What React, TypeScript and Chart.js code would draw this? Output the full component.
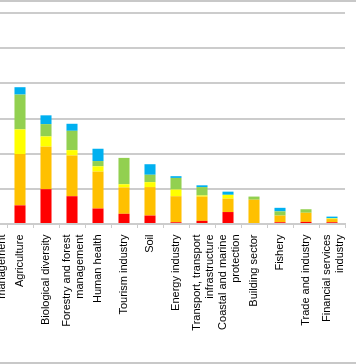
import React, { useEffect, useRef } from "react";
import { Chart, registerables } from "chart.js";

Chart.register(...registerables);

const categories: string[][] = [
  ["Water regime and water", "management"],
  ["Agriculture"],
  ["Biological diversity"],
  ["Forestry and forest", "management"],
  ["Human health"],
  ["Tourism industry"],
  ["Soil"],
  ["Energy industry"],
  ["Transport, transport", "infrastructure"],
  ["Coastal and marine", "protection"],
  ["Building sector"],
  ["Fishery"],
  ["Trade and industry"],
  ["Financial services", "industry"],
];

const redValues = [8.0, 5.3, 9.9, 7.9, 4.4, 2.9, 2.4, 0.5, 0.9, 3.4, 0, 0.5, 0.6, 0.5];
const orangeValues = [18.0, 14.6, 12.1, 11.6, 10.5, 7.5, 8.1, 7.4, 6.9, 3.8, 6.9, 1.9, 2.6, 0.9];
const yellowValues = [6.0, 7.0, 2.9, 1.5, 1.5, 0.9, 1.4, 1.9, 0.3, 1.1, 0, 0, 0, 0.2];
const greenValues = [9.0, 9.9, 3.5, 5.5, 1.5, 7.5, 2.1, 3.3, 2.4, 0, 0.9, 1.2, 1.0, 0];
const blueValues = [3.0, 2.1, 2.5, 2.0, 3.5, 0, 3.0, 0.5, 0.5, 0.9, 0, 1.0, 0, 0.5];

const yMax = 60;
const yStep = 10;

const GRID = "#cccccc";

const labelPlugin = {
  id: "rotatedCategoryLabels",
  afterDraw(chart: any) {
    const xs = chart.scales.x;
    const ctx = chart.ctx;
    const lh = 13.6;
    ctx.save();
    ctx.font = '11px "Liberation Sans", Arial, sans-serif';
    ctx.fillStyle = "#000000";
    ctx.textAlign = "right";
    ctx.textBaseline = "middle";
    const anchorY = chart.chartArea.bottom + 10.5;
    categories.forEach((lines, i) => {
      const x = xs.getPixelForValue(i);
      const n = lines.length;
      ctx.save();
      ctx.translate(x, anchorY);
      ctx.rotate(-Math.PI / 2);
      lines.forEach((t, j) => {
        const off = (j - (n - 1) / 2) * lh + (n > 1 ? 1.3 : 0);
        ctx.fillText(t, 0, off);
      });
      ctx.restore();
    });
    ctx.restore();
  },
};

export default function App() {
  const ref = useRef<HTMLCanvasElement | null>(null);

  useEffect(() => {
    if (!ref.current) return;
    const chart = new Chart(ref.current, {
      type: "bar",
      data: {
        labels: categories,
        datasets: [
          { label: "Red", data: redValues, backgroundColor: "#ff0000" },
          { label: "Orange", data: orangeValues, backgroundColor: "#ffc000" },
          { label: "Yellow", data: yellowValues, backgroundColor: "#ffff00" },
          { label: "Green", data: greenValues, backgroundColor: "#92d050" },
          { label: "Blue", data: blueValues, backgroundColor: "#00b0f0" },
        ],
      },
      options: {
        responsive: false,
        animation: false,
        devicePixelRatio: 1,
        layout: { padding: { top: 13, left: 0, right: 11, bottom: 0 } },
        plugins: {
          legend: { display: false },
          tooltip: { enabled: false },
          title: { display: false },
        },
        datasets: {
          bar: { barPercentage: 0.85, categoryPercentage: 0.5 },
        },
        scales: {
          x: {
            stacked: true,
            ticks: { display: false },
            grid: {
              drawOnChartArea: false,
              drawTicks: true,
              tickLength: 4,
              color: GRID,
              lineWidth: 1,
            },
            border: { display: true, color: GRID, width: 2 },
            afterFit: (scale: any) => {
              scale.height = 140;
            },
          },
          y: {
            stacked: true,
            min: 0,
            max: yMax,
            ticks: { display: false, stepSize: yStep },
            grid: { color: GRID, lineWidth: 2, drawTicks: false },
            border: { display: false },
            afterFit: (scale: any) => {
              scale.width = 0;
            },
          },
        },
      },
      plugins: [labelPlugin],
    });
    return () => chart.destroy();
  }, []);

  return (
    <div
      style={{
        position: "fixed",
        left: 0,
        top: 0,
        width: 356,
        height: 364,
        overflow: "hidden",
        background: "#ffffff",
      }}
    >
      <canvas
        ref={ref}
        width={375}
        height={364}
        style={{ position: "absolute", left: -19, top: 0, width: 375, height: 364 }}
      />
      <div
        style={{
          position: "absolute",
          left: 0,
          top: 0,
          width: 356,
          height: 364,
          boxSizing: "border-box",
          borderTop: "2px solid #c8c8c8",
          borderBottom: "2px solid #c8c8c8",
          pointerEvents: "none",
        }}
      />
    </div>
  );
}
